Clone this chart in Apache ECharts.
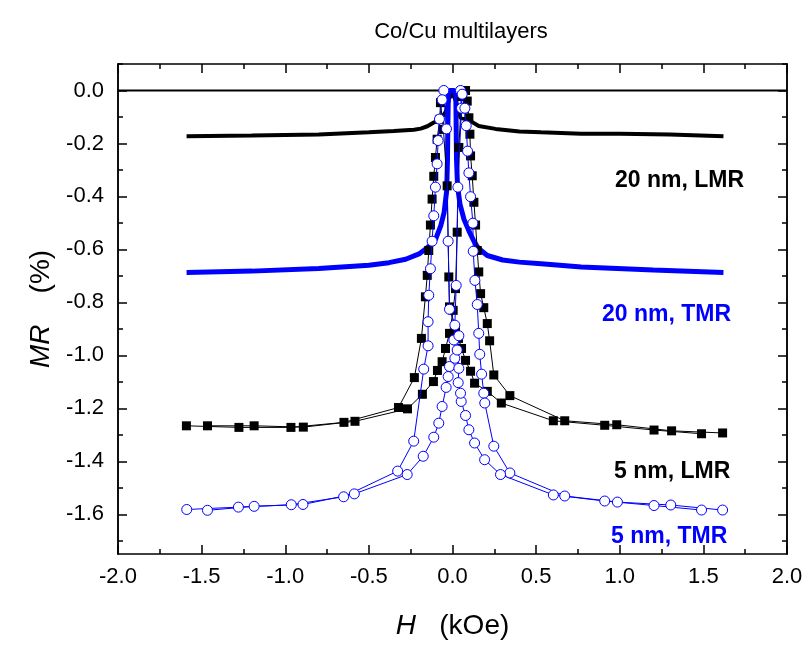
<!DOCTYPE html>
<html>
<head>
<meta charset="utf-8">
<script src="https://cdn.jsdelivr.net/npm/echarts@6/dist/echarts.min.js"></script>
<style>
html, body { margin: 0; padding: 0; background: #fff; }
#main { width: 811px; height: 646px; }
</style>
</head>
<body>
<div id="main"></div>
<script>
// field H in kOe, MR in %
var zeroH = [-2, 2];
var zeroMR = [0, 0];

var lmr20H = [-1.59, -1.2, -0.8, -0.5, -0.35, -0.28, -0.23, -0.19, -0.15, -0.112, -0.072, -0.04, -0.02, 0, 0.02, 0.048, 0.098, 0.157, 0.257, 0.4, 0.53, 0.77, 1.0, 1.3, 1.62];
var lmr20MR = [-0.173, -0.170, -0.166, -0.158, -0.153, -0.150, -0.148, -0.144, -0.135, -0.121, -0.109, -0.08, -0.03, -0.01, -0.04, -0.103, -0.112, -0.134, -0.145, -0.155, -0.158, -0.163, -0.163, -0.166, -0.173];

var tmr20H = [-1.59, -1.2, -0.8, -0.5, -0.38, -0.28, -0.2, -0.16, -0.13, -0.1, -0.07, -0.05, -0.035, -0.03, -0.028, -0.025, -0.018, 0.012, 0.02, 0.022, 0.024, 0.03, 0.045, 0.068, 0.098, 0.125, 0.148, 0.178, 0.208, 0.3, 0.4, 0.53, 0.77, 1.2, 1.62];
var tmr20MR = [-0.687, -0.682, -0.672, -0.66, -0.65, -0.637, -0.617, -0.598, -0.582, -0.56, -0.51, -0.46, -0.38, -0.26, -0.14, -0.02, 0, 0, -0.02, -0.14, -0.26, -0.36, -0.43, -0.485, -0.53, -0.565, -0.59, -0.608, -0.623, -0.64, -0.648, -0.654, -0.666, -0.678, -0.687];

// 5 nm, sweep up (-H -> +H)
var lmr5UpH = [-1.465, -1.186, -0.892, -0.583, -0.269, -0.180, -0.114, -0.090, -0.062, -0.042, -0.018, 0.004, 0.018, 0.028, 0.038, 0.054, 0.078, 0.088, 0.098, 0.104, 0.108, 0.118, 0.128, 0.138, 0.148, 0.157, 0.168, 0.187, 0.208, 0.222, 0.247, 0.343, 0.671, 0.982, 1.310, 1.615];
var lmr5UpMR = [-1.266, -1.266, -1.271, -1.249, -1.202, -1.147, -1.099, -1.057, -1.024, -0.974, -0.917, -0.830, -0.748, -0.535, -0.215, -0.023, 0.0, -0.040, -0.103, -0.165, -0.247, -0.322, -0.422, -0.508, -0.604, -0.685, -0.767, -0.820, -0.880, -0.945, -1.074, -1.152, -1.247, -1.262, -1.285, -1.293];
// 5 nm, sweep down (+H -> -H)
var lmr5DownH = [1.489, 1.205, 0.910, 0.603, 0.292, 0.208, 0.132, 0.108, 0.078, 0.054, 0.036, 0.018, -0.018, -0.022, -0.032, -0.054, -0.072, -0.076, -0.092, -0.102, -0.112, -0.122, -0.132, -0.142, -0.151, -0.162, -0.186, -0.228, -0.323, -0.649, -0.966, -1.277, -1.591];
var lmr5DownMR = [-1.296, -1.282, -1.264, -1.247, -1.180, -1.136, -1.105, -1.060, -1.019, -0.974, -0.936, -0.900, -0.817, -0.704, -0.360, -0.147, -0.046, -0.109, -0.184, -0.253, -0.324, -0.410, -0.508, -0.604, -0.698, -0.779, -0.936, -1.084, -1.197, -1.253, -1.272, -1.272, -1.266];

var tmr5UpH = [-1.465, -1.186, -0.894, -0.587, -0.271, -0.175, -0.112, -0.082, -0.062, -0.038, -0.026, -0.018, 0.014, 0.008, 0.014, 0.022, 0.032, 0.054, 0.048, 0.058, 0.074, 0.082, 0.090, 0.098, 0.108, 0.122, 0.124, 0.134, 0.148, 0.157, 0.163, 0.174, 0.187, 0.193, 0.247, 0.343, 0.671, 0.986, 1.305, 1.615];
var tmr5UpMR = [-1.585, -1.570, -1.563, -1.523, -1.450, -1.381, -1.309, -1.256, -1.193, -1.121, -1.080, -1.042, -1.011, -0.942, -0.886, -0.736, -0.365, -0.067, 0.0, -0.014, -0.067, -0.133, -0.229, -0.311, -0.401, -0.501, -0.607, -0.717, -0.808, -0.917, -0.996, -1.071, -1.143, -1.180, -1.343, -1.444, -1.531, -1.554, -1.565, -1.584];
var tmr5DownH = [1.489, 1.205, 0.910, 0.603, 0.287, 0.192, 0.132, 0.098, 0.078, 0.052, 0.048, 0.034, 0.038, 0.028, 0.038, -0.018, -0.026, -0.036, -0.052, -0.062, -0.078, -0.086, -0.092, -0.102, -0.112, -0.122, -0.132, -0.142, -0.146, -0.146, -0.172, -0.232, -0.328, -0.651, -0.964, -1.280, -1.589];
var tmr5DownMR = [-1.584, -1.567, -1.550, -1.527, -1.450, -1.394, -1.331, -1.281, -1.227, -1.174, -1.143, -1.103, -1.049, -0.980, -0.926, -0.826, -0.569, -0.145, 0.0, -0.035, -0.108, -0.189, -0.277, -0.365, -0.473, -0.569, -0.673, -0.773, -0.873, -0.964, -1.052, -1.324, -1.437, -1.534, -1.564, -1.573, -1.582];

var yMajor = [-1.6, -1.4, -1.2, -1.0, -0.8, -0.6, -0.4, -0.2, 0.0];
var yMinor = [-1.7, -1.5, -1.3, -1.1, -0.9, -0.7, -0.5, -0.3, -0.1, 0.1];

var FONT = 'Arial, "Liberation Sans", sans-serif';
var BLUE = '#0000ff';

function pairs(xs, ys) {
	var out = [];
	for (var i = 0; i < xs.length; i++) {
		out.push([xs[i], ys[i]]);
	}
	return out;
}

function fmt(v) {
	return Number(v).toFixed(1);
}

var tickLine = { color: '#000', width: 1.5 };
var nameStyle = {
	fontSize: 28, color: '#000', fontFamily: FONT,
	rich: { i: { fontSize: 28, fontStyle: 'italic', fontFamily: FONT, color: '#000' } }
};

function xAxisDef(pos) {
	return {
		type: 'value', position: pos, min: -2, max: 2, interval: 0.5,
		axisLine: { show: true, onZero: false, lineStyle: tickLine },
		axisTick: { show: true, inside: true, length: 9, lineStyle: tickLine },
		minorTick: { show: true, splitNumber: 2, length: 5, lineStyle: tickLine },
		splitLine: { show: false },
		axisLabel: {
			show: pos === 'bottom', margin: 12, fontSize: 22, color: '#000',
			fontFamily: FONT, formatter: fmt
		},
		name: pos === 'bottom' ? '{i|H}   (kOe)' : '',
		nameLocation: 'middle', nameGap: 58,
		nameTextStyle: nameStyle
	};
}

function yAxisDef(pos, values, len, labels) {
	return {
		type: 'value', position: pos, min: -1.75, max: 0.1, offset: 0,
		axisLine: { show: true, onZero: false, lineStyle: tickLine },
		axisTick: { show: true, inside: true, length: len, customValues: values, lineStyle: tickLine },
		splitLine: { show: false },
		axisLabel: {
			show: labels, customValues: values, margin: 14, fontSize: 22, color: '#000',
			fontFamily: FONT, formatter: fmt
		},
		name: labels ? '{i|MR}    (%)' : '',
		nameLocation: 'middle', nameGap: 62,
		nameTextStyle: nameStyle
	};
}

var chart = echarts.init(document.getElementById('main'));
var option = {
	animation: false,
	backgroundColor: '#fff',
	title: {
		text: 'Co/Cu multilayers', left: 456, textAlign: 'center', top: 16,
		textStyle: { fontSize: 22, fontWeight: 'normal', color: '#000', fontFamily: FONT }
	},
	grid: { left: 118, right: 24, top: 64, bottom: 92, outerBoundsMode: 'none' },
	xAxis: [xAxisDef('bottom'), xAxisDef('top')],
	yAxis: [
		yAxisDef('left', yMajor, 9, true),
		yAxisDef('left', yMinor, 5, false),
		yAxisDef('right', yMajor, 9, false),
		yAxisDef('right', yMinor, 5, false)
	],
	series: [
		{
			type: 'line', data: pairs(zeroH, zeroMR), symbol: 'none',
			lineStyle: { color: '#000', width: 2 }, z: 1
		},
		{
			name: '20 nm, LMR', type: 'line', data: pairs(lmr20H, lmr20MR), symbol: 'none',
			lineStyle: { color: '#000', width: 4 }, z: 2
		},
		{
			name: '20 nm, TMR', type: 'line', data: pairs(tmr20H, tmr20MR), symbol: 'none',
			lineStyle: { color: BLUE, width: 5 }, z: 3
		},
		{
			name: '5 nm, LMR up', type: 'line', data: pairs(lmr5UpH, lmr5UpMR),
			symbol: 'rect', symbolSize: 9, showAllSymbol: true,
			itemStyle: { color: '#000' }, lineStyle: { color: '#000', width: 1 }, z: 4
		},
		{
			name: '5 nm, LMR down', type: 'line', data: pairs(lmr5DownH, lmr5DownMR),
			symbol: 'rect', symbolSize: 9, showAllSymbol: true,
			itemStyle: { color: '#000' }, lineStyle: { color: '#000', width: 1 }, z: 4
		},
		{
			name: '5 nm, TMR up', type: 'line', data: pairs(tmr5UpH, tmr5UpMR),
			symbol: 'circle', symbolSize: 10, showAllSymbol: true,
			itemStyle: { color: '#fff', borderColor: BLUE, borderWidth: 1 },
			lineStyle: { color: BLUE, width: 1 }, z: 5
		},
		{
			name: '5 nm, TMR down', type: 'line', data: pairs(tmr5DownH, tmr5DownMR),
			symbol: 'circle', symbolSize: 10, showAllSymbol: true,
			itemStyle: { color: '#fff', borderColor: BLUE, borderWidth: 1 },
			lineStyle: { color: BLUE, width: 1 }, z: 5
		}
	],
	graphic: [
		{ type: 'text', x: 615, y: 181, style: { text: '20 nm, LMR', fill: '#000', font: 'bold 23px ' + FONT, verticalAlign: 'middle' } },
		{ type: 'text', x: 602, y: 315, style: { text: '20 nm, TMR', fill: BLUE, font: 'bold 23px ' + FONT, verticalAlign: 'middle' } },
		{ type: 'text', x: 614, y: 472, style: { text: '5 nm, LMR', fill: '#000', font: 'bold 23px ' + FONT, verticalAlign: 'middle' } },
		{ type: 'text', x: 611, y: 537, style: { text: '5 nm, TMR', fill: BLUE, font: 'bold 23px ' + FONT, verticalAlign: 'middle' } }
	]
};
chart.setOption(option);
</script>
</body>
</html>
